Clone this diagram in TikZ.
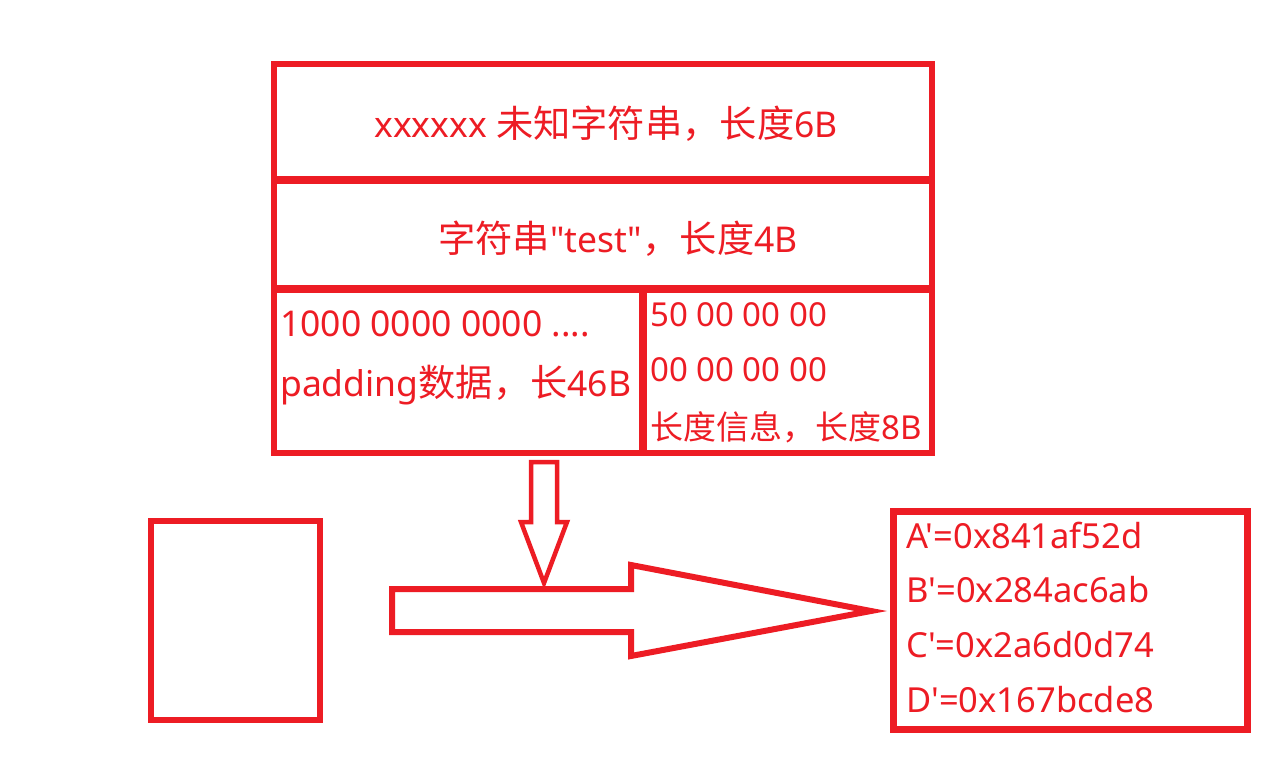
\documentclass[tikz,border=0pt]{standalone}
\usepackage{fontspec}
\setmainfont{Noto Sans}[Ligatures=TeXOff]
\newfontfamily\cjk{Noto Sans CJK SC}[Ligatures=TeXOff,Scale=1.05]
\newfontfamily\cjks{Noto Sans CJK SC}[Ligatures=TeXOff]
\definecolor{pred}{RGB}{237,28,36}
\begin{document}
\begin{tikzpicture}[x=1pt,y=-1pt,
  box/.style={draw=pred,line width=6pt,inner sep=0pt},
  txt/.style={text=pred,inner sep=0pt,font=\fontsize{35.5}{40}\selectfont},
  stxt/.style={text=pred,inner sep=0pt,font=\fontsize{33}{38}\selectfont},
  rtxt/.style={text=pred,inner sep=0pt,font=\fontsize{34.5}{38}\selectfont},
  blockarrow/.style={draw=pred,line join=miter,fill=white}]
\useasboundingbox (0,0) rectangle (1279,770);
% top structure
\node[box,minimum width=658pt,minimum height=115pt] (r1) at (603,121.5) {};
\node[box,minimum width=658pt,minimum height=107pt] (r2) at (603,234.5) {};
\node[box,minimum width=368pt,minimum height=163pt] (r3l) at (458,371.5) {};
\node[box,minimum width=288pt,minimum height=163pt] (r3r) at (788,371.5) {};
\node[txt] (t1) at (606,124) {xxxxxx {\cjk 未知字符串，长度}6B};
\node[txt] (t2) at (618,239) {{\cjk 字符串}"test"{\cjk ，长度}4B};
\node[txt,anchor=west] (t3a) at (280,324) {1000 0000 0000 ....};
\node[txt,anchor=west] (t3b) at (280,385) {padding{\cjk 数据，长}46B};
\node[stxt,anchor=west] (t4a) at (650,315) {50 00 00 00};
\node[stxt,anchor=west] (t4b) at (650,370) {00 00 00 00};
\node[stxt,anchor=west] (t4c) at (650,427) {{\cjks 长度信息，长度}8B};
% left empty box
\node[box,minimum width=169pt,minimum height=199.5pt] (lb) at (235.5,620.25) {};
% right result box
\node[box,line width=7pt,minimum width=354pt,minimum height=218.5pt] (rb) at (1070.5,620.25) {};
\node[rtxt,anchor=west] (ra) at (906,535) {A'=0x841af52d};
\node[rtxt,anchor=west] (rbb) at (906,590) {B'=0x284ac6ab};
\node[rtxt,anchor=west] (rc) at (906,645) {C'=0x2a6d0d74};
\node[rtxt,anchor=west] (rd) at (906,700) {D'=0x167bcde8};
% block arrows
\draw[blockarrow,line width=6pt] (392,589) -- (631,589) -- (631,565) -- (871,611) -- (631,656) -- (631,632) -- (392,632) -- cycle;
\draw[blockarrow,line width=4.5pt] (531,462) -- (531,522) -- (521,522) -- (544,583) -- (567,522) -- (557,522) -- (557,462) -- cycle;
\end{tikzpicture}
\end{document}
